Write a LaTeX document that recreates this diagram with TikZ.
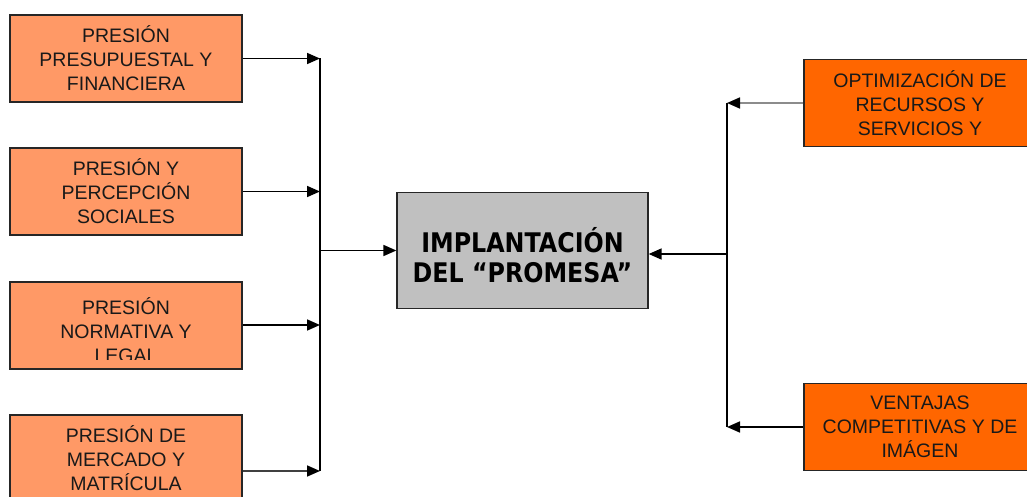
\documentclass[tikz,border=0pt]{standalone}
\usepackage{fontspec}
\setmainfont{Liberation Sans}
\newfontfamily\ctrfont{DejaVu Sans}[FakeStretch=0.88]
\usetikzlibrary{arrows.meta}
\definecolor{lsalmon}{HTML}{FF9966}
\definecolor{rorange}{HTML}{FF6600}
\definecolor{cgray}{HTML}{C0C0C0}
\begin{document}
\begin{tikzpicture}[x=1pt,y=-1pt,
  boxtext/.style={align=center, font=\fontsize{19.5}{24}\selectfont, text=black!90, inner sep=0pt},
  box/.style={boxtext, draw=black!85, line width=1.3pt, minimum width=232pt, minimum height=87pt},
  lbox/.style={box, fill=lsalmon},
  rbox/.style={box, fill=rorange},
  conn/.style={line width=1.7pt, draw=black, -{Triangle[length=13pt,width=11pt,color=black]}},
  bus/.style={line width=1.7pt, draw=black}]
\useasboundingbox (0,0) rectangle (1027,497);
\clip (0,0) rectangle (1027,497);
\fill[white] (0,0) rectangle (1027,497);
% left boxes
\node[lbox] (l1) at (126,58.5) {PRESIÓN\\PRESUPUESTAL Y\\FINANCIERA};
\node[lbox] (l2) at (126,191.5) {PRESIÓN Y\\PERCEPCIÓN\\SOCIALES};
\node[lbox] (l3) at (126,325.5) {};
\begin{scope}
  \clip (10,282) rectangle (242,359);
  \node[boxtext] (l3t) at (126,330) {PRESIÓN\\NORMATIVA Y\\LEGAL};
\end{scope}
\node[lbox] (l4) at (126,458.5) {PRESIÓN DE\\MERCADO Y\\MATRÍCULA};
% centre
\node[draw=black!85, line width=1.3pt, fill=cgray, minimum width=251pt, minimum height=116pt,
      inner sep=0pt] (c) at (522.5,250.5) {};
\node[align=center, inner sep=0pt, font=\ctrfont\bfseries\fontsize{27}{30.5}\selectfont] (ct) at (522.5,255)
      {IMPLANTACIÓN\\DEL “PROMESA”};
% right boxes
\node[rbox] (r1) at (920,103) {OPTIMIZACIÓN DE\\RECURSOS Y\\SERVICIOS Y};
\node[rbox] (r2) at (920,427) {VENTAJAS\\COMPETITIVAS Y DE\\IMÁGEN};
% left bus
\coordinate (b1) at (320,58.5);
\coordinate (b2) at (320,191.5);
\coordinate (b3) at (320,325);
\coordinate (b4) at (320,471);
\coordinate (bc) at (320,250.5);
\draw[bus] (b1) -- (b4);
\draw[conn] (l1.east) -- (b1);
\draw[conn] (l2.east) -- (b2);
\draw[conn] (l3.east |- b3) -- (b3);
\draw[conn, draw=black!75] (l4.east |- b4) -- (b4);
\draw[conn] (bc) -- (c.west);
% right bus
\coordinate (q1) at (727,103);
\coordinate (q2) at (727,427);
\coordinate (qc) at (727,254);
\draw[bus] (q1) -- (q2);
\draw[conn, draw=black!45] (r1.west) -- (q1);
\draw[conn] (r2.west) -- (q2);
\draw[conn] (qc) -- (qc -| c.east);
\end{tikzpicture}
\end{document}
